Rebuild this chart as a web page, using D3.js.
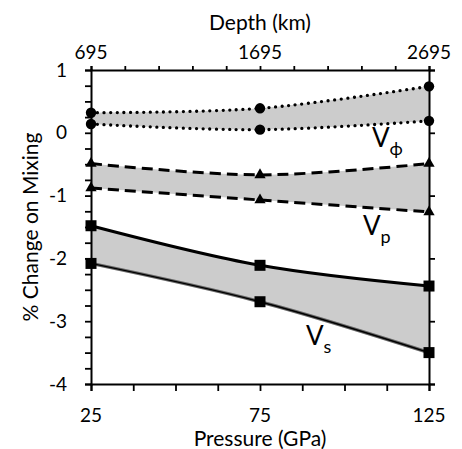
<!DOCTYPE html>
<html>
<head>
<meta charset="utf-8">
<script src="https://cdn.jsdelivr.net/npm/d3@7"></script>
<style>
  body { margin: 0; background: #fff; }
  text { font-family: Lato, "Open Sans", sans-serif; fill: #000; }
</style>
</head>
<body>
<div id="chart"></div>
<script>
// Data
const pressure = [25, 75, 125];
const depthTicks = [695, 1695, 2695];
const vphiUpper = [0.32, 0.39, 0.74];
const vphiLower = [0.14, 0.05, 0.19];
const vpUpper = [-0.49, -0.67, -0.49];
const vpLower = [-0.88, -1.07, -1.26];
const vsUpper = [-1.48, -2.11, -2.44];
const vsLower = [-2.08, -2.69, -3.50];
const yTicks = [1, 0, -1, -2, -3, -4];

const W = 462, H = 449;
const margin = {top: 70, right: 33, bottom: 65, left: 91};
const width = W - margin.left - margin.right,
      height = H - margin.top - margin.bottom;

const svg = d3.select("#chart")
  .append("svg")
  .attr("width", W)
  .attr("height", H);

const g = svg.append("g")
  .attr("transform", `translate(${margin.left},${margin.top})`);

const x = d3.scaleLinear().domain([25, 125]).range([0, width]);
const xDepth = d3.scaleLinear().domain([695, 2695]).range([0, width]);
const y = d3.scaleLinear().domain([-4, 1]).range([height, 0]);

const curve = d3.curveCatmullRom;

// bands
const bands = [
  {up: vphiUpper, lo: vphiLower},
  {up: vpUpper, lo: vpLower},
  {up: vsUpper, lo: vsLower}
];
const area = d3.area()
  .x(d => x(d.p))
  .y0(d => y(d.lo))
  .y1(d => y(d.up))
  .curve(curve);

bands.forEach(b => {
  const rows = pressure.map((p, i) => ({p: p, up: b.up[i], lo: b.lo[i]}));
  g.append("path")
   .datum(rows)
   .attr("d", area)
   .attr("fill", "#cccccc");
});

const line = d3.line()
  .x(d => x(d.p))
  .y(d => y(d.v))
  .curve(curve);

function series(vals) {
  return pressure.map((p, i) => ({p: p, v: vals[i]}));
}

// Vphi dotted
[vphiUpper, vphiLower].forEach(vals => {
  g.append("path")
   .datum(series(vals))
   .attr("d", line)
   .attr("fill", "none")
   .attr("stroke", "#000")
   .attr("stroke-width", 3.3)
   .attr("stroke-linecap", "round")
   .attr("stroke-dasharray", "0,6.6");
});

// Vp dashed
[vpUpper, vpLower].forEach(vals => {
  g.append("path")
   .datum(series(vals))
   .attr("d", line)
   .attr("fill", "none")
   .attr("stroke", "#000")
   .attr("stroke-width", 3)
   .attr("stroke-dasharray", "11,6");
});

// Vs solid
g.append("path")
 .datum(series(vsUpper))
 .attr("d", line)
 .attr("fill", "none")
 .attr("stroke", "#000")
 .attr("stroke-width", 3);

g.append("path")
 .datum(series(vsLower))
 .attr("d", line)
 .attr("fill", "none")
 .attr("stroke", "#666")
 .attr("stroke-width", 3.4);
g.append("path")
 .datum(series(vsLower))
 .attr("d", line)
 .attr("fill", "none")
 .attr("stroke", "#000")
 .attr("stroke-width", 1.4);

// markers
[vphiUpper, vphiLower].forEach(vals => {
  g.selectAll(null)
   .data(series(vals))
   .enter()
   .append("circle")
   .attr("cx", d => x(d.p))
   .attr("cy", d => y(d.v))
   .attr("r", 5.2)
   .attr("fill", "#000");
});

const tri = d3.symbol().type(d3.symbolTriangle).size(55);
[vpUpper, vpLower].forEach(vals => {
  g.selectAll(null)
   .data(series(vals))
   .enter()
   .append("path")
   .attr("d", tri)
   .attr("transform", d => `translate(${x(d.p)},${y(d.v)})`)
   .attr("fill", "#000");
});

[vsUpper, vsLower].forEach(vals => {
  g.selectAll(null)
   .data(series(vals))
   .enter()
   .append("rect")
   .attr("x", d => x(d.p) - 5.5)
   .attr("y", d => y(d.v) - 5.5)
   .attr("width", 11)
   .attr("height", 11)
   .attr("fill", "#000");
});

// axes
const fmt = d => String(d);

const axLeft = g.append("g")
  .call(d3.axisLeft(y).tickValues(d3.range(-4, 1.001, 0.25)).tickSize(6).tickFormat(""));
const axRight = g.append("g")
  .attr("transform", `translate(${width},0)`)
  .call(d3.axisRight(y).tickValues(yTicks).tickSize(6).tickFormat(""));
const axBottom = g.append("g")
  .attr("transform", `translate(0,${height})`)
  .call(d3.axisBottom(x).tickValues(d3.range(25, 125.001, 12.5)).tickSize(7).tickFormat(""));
const axTop = g.append("g")
  .call(d3.axisTop(xDepth).tickValues(d3.range(695, 2695.001, 200)).tickSize(4).tickFormat(""));

[axLeft, axRight, axBottom, axTop].forEach(a => {
  a.select(".domain").attr("stroke", "#000").attr("stroke-width", 2);
  a.selectAll(".tick line").attr("stroke", "#000").attr("stroke-width", 1.8);
});

// tick labels
g.selectAll(null)
 .data(yTicks)
 .enter()
 .append("text")
 .attr("x", -24)
 .attr("y", d => y(d))
 .attr("dy", "0.35em")
 .attr("text-anchor", "end")
 .style("font-size", "19px")
 .text(fmt);

g.selectAll(null)
 .data(pressure)
 .enter()
 .append("text")
 .attr("x", d => x(d))
 .attr("y", height + 38)
 .attr("text-anchor", "middle")
 .style("font-size", "19px")
 .text(fmt);

g.selectAll(null)
 .data(depthTicks)
 .enter()
 .append("text")
 .attr("x", d => xDepth(d))
 .attr("y", -11)
 .attr("text-anchor", "middle")
 .style("font-size", "19px")
 .text(fmt);

// axis titles
svg.append("text")
  .attr("x", margin.left + width / 2)
  .attr("y", 30)
  .attr("text-anchor", "middle")
  .style("font-size", "21px")
  .text("Depth (km)");

svg.append("text")
  .attr("x", margin.left + width / 2)
  .attr("y", 446)
  .attr("text-anchor", "middle")
  .style("font-size", "21px")
  .text("Pressure (GPa)");

svg.append("text")
  .attr("transform", `translate(38,${margin.top + height / 2}) rotate(-90)`)
  .attr("text-anchor", "middle")
  .style("font-size", "21px")
  .text("% Change on Mixing");

// series labels
const labels = [
  {v: "V", sub: "\u03D5", x: 372, y: 147},
  {v: "V", sub: "p", x: 363, y: 235},
  {v: "V", sub: "s", x: 306, y: 345}
];
labels.forEach(l => {
  const t = svg.append("text")
    .attr("x", l.x)
    .attr("y", l.y)
    .style("font-size", "26px");
  t.append("tspan").text(l.v);
  t.append("tspan")
   .attr("dy", 8)
   .style("font-size", "18px")
   .text(l.sub);
});
</script>
</body>
</html>
